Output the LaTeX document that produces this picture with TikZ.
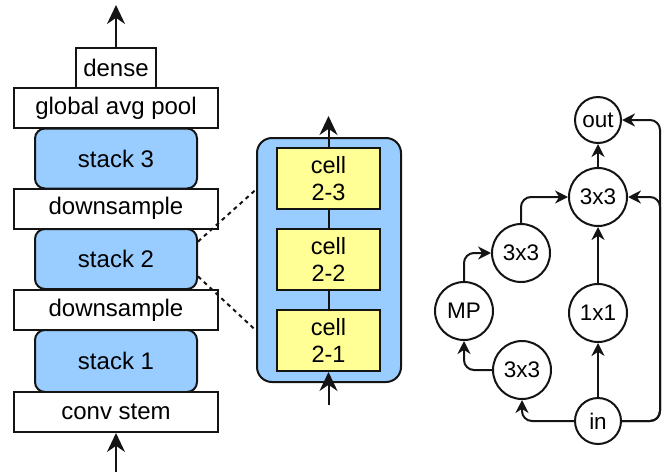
\documentclass[tikz,border=0pt]{standalone}
\usepackage{fontspec}
\setmainfont{Liberation Sans}
\usepackage{tikz}
\usetikzlibrary{calc, arrows.meta, positioning}

\definecolor{stackblue}{RGB}{153,204,255}
\definecolor{cellyellow}{RGB}{255,255,150}
\definecolor{ink}{RGB}{20,20,20}

\tikzset{
  plainbox/.style={draw=ink, fill=white, line width=2pt, inner sep=0pt,
    minimum height=40pt, font=\fontsize{24}{27}\selectfont},
  stackbox/.style={draw=ink, fill=stackblue, line width=2pt, rounded corners=10pt,
    inner sep=0pt, minimum width=162pt, minimum height=60pt,
    font=\fontsize{24}{27}\selectfont},
  cellbox/.style={draw=ink, fill=cellyellow, line width=2pt, inner sep=0pt,
    minimum width=103pt, minimum height=61pt, align=center,
    font=\fontsize{23.5}{27}\selectfont},
  opnode/.style={circle, draw=ink, fill=white, line width=2pt, inner sep=0pt,
    minimum size=58pt, font=\fontsize{22.5}{26}\selectfont},
  endnode/.style={opnode, minimum size=46pt},
  arr/.style={-{Stealth[length=13pt, width=13pt]}, line width=2pt, draw=ink},
  bigarr/.style={arr, -{Stealth[length=19pt, width=18pt]}},
  link/.style={line width=2pt, draw=ink},
}

\begin{document}
\begin{tikzpicture}[x=1pt, y=-1pt]
  \useasboundingbox (0,0) rectangle (663,472);

  % left: whole network
  \node[plainbox, minimum width=80pt] (dense) at (116,68) {dense};
  \node[plainbox, minimum width=204pt] (gap) at (116,108) {global avg pool};
  \node[stackbox] (stack3) at (116,158.5) {stack 3};
  \node[plainbox, minimum width=204pt] (down2) at (116,208.5) {downsample};
  \node[stackbox] (stack2) at (116,259) {stack 2};
  \node[plainbox, minimum width=204pt] (down1) at (116,310) {downsample};
  \node[stackbox, minimum height=62pt] (stack1) at (116,361) {stack 1};
  \node[plainbox, minimum width=204pt] (stem) at (116,412) {conv stem};

  \coordinate (netout) at (116,5);
  \coordinate (netin) at (116,472);
  \draw[bigarr] (dense.north) -- (netout);
  \draw[bigarr] (netin) -- (stem.south);

  % middle: inside stack 2
  \node[stackbox, minimum width=144pt, minimum height=244pt, rounded corners=15pt]
    (stackbig) at (329,260) {};
  \node[cellbox] (cell23) at (328.5,178.5) {cell\\2-3};
  \node[cellbox] (cell22) at (328.5,259.5) {cell\\2-2};
  \node[cellbox] (cell21) at (328.5,340.5) {cell\\2-1};
  \draw[link] (cell21.north) -- (cell22.south);
  \draw[link] (cell22.north) -- (cell23.south);

  \coordinate (cellout) at (328.5,116);
  \coordinate (cellin) at (328.5,405);
  \draw[bigarr] (cell23.north) -- (cellout);
  \draw[bigarr] (cellin) -- (cell21.south);

  \draw[link, dashed, dash pattern=on 4pt off 4pt] (stack2.12) -- (stackbig.136);
  \draw[link, dashed, dash pattern=on 4pt off 4pt] (stack2.-12) -- (stackbig.224);

  % right: one cell
  \node[endnode] (out) at (598,120) {out};
  \node[opnode] (convtop) at (598,197) {3x3};
  \node[opnode] (convmid) at (521,253) {3x3};
  \node[opnode] (pool) at (464,311) {MP};
  \node[opnode] (proj) at (598,313) {1x1};
  \node[opnode] (convbot) at (522,370) {3x3};
  \node[endnode] (in) at (598,421) {in};

  \coordinate (rail) at (660,300);

  \draw[arr] (in) -- (proj);
  \draw[arr] (proj) -- (convtop);
  \draw[arr] (convtop) -- (out);
  \draw[arr, rounded corners=10pt] (in) -| (convbot);
  \draw[arr, rounded corners=10pt] (convbot) -| (pool);
  \draw[arr, rounded corners=10pt] (pool) |- (convmid);
  \draw[arr, rounded corners=10pt] (convmid) |- (convtop);
  \draw[arr, rounded corners=10pt] (in) -| (rail) |- (convtop);
  \draw[arr, rounded corners=10pt] (in) -| (rail) |- (out);
\end{tikzpicture}
\end{document}
